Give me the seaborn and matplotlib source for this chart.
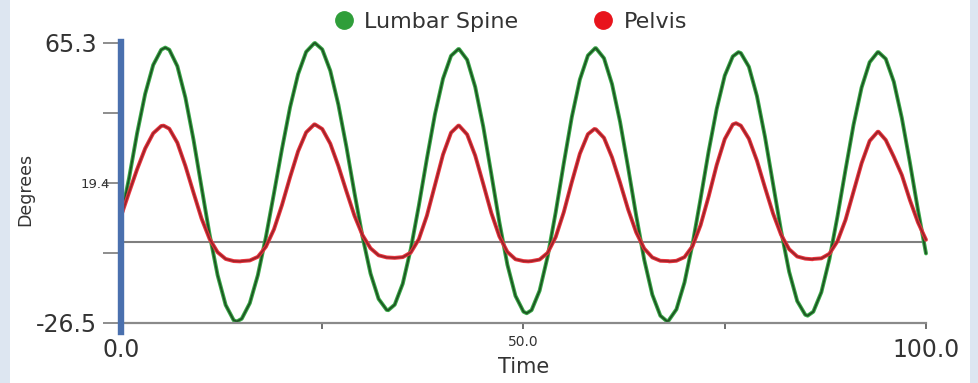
import numpy as np
import pandas as pd
import matplotlib
matplotlib.use("Agg")
import matplotlib.pyplot as plt
import matplotlib.patheffects as pe
from matplotlib.lines import Line2D
from matplotlib.patches import Rectangle
import seaborn as sns

# ---------------- data ----------------
time = list(range(0, 101))

lumbar_spine = [
    8.0, 21.0, 35.7, 48.6, 58.1, 63.1, 63.1, 57.7, 47.4, 33.7,
    18.1, 2.6, -10.8, -20.6, -25.6, -25.1, -20.0, -10.8, 1.7, 16.0,
    30.6, 44.2, 55.1, 62.4, 65.2, 63.2, 56.2, 45.1, 31.3, 16.2,
    1.8, -10.3, -18.6, -22.2, -20.5, -13.6, -2.2, 12.0, 27.4, 41.9,
    53.6, 61.1, 63.3, 59.8, 50.9, 37.9, 22.4, 6.6, -7.4, -17.6,
    -22.8, -22.3, -15.9, -4.7, 9.8, 25.8, 41.0, 53.3, 61.2, 63.6,
    60.3, 51.8, 39.4, 24.4, 8.7, -5.8, -17.2, -24.1, -25.8, -22.0,
    -13.2, -0.6, 14.3, 29.8, 43.7, 54.6, 60.9, 62.0, 57.5, 47.9,
    34.5, 19.1, 3.7, -9.7, -19.3, -23.8, -22.8, -16.4, -5.6, 8.4,
    23.7, 38.5, 50.7, 59.0, 62.3, 60.1, 52.6, 40.7, 26.1, 10.6,
    -3.7,
]
# peaks / troughs of Lumbar Spine read between the whole-number samples
lumbar_extrema_time = [5.5, 14.4, 24.1, 33.2, 41.9, 50.4, 58.9, 67.8, 76.7, 85.3, 94.1]
lumbar_extrema_value = [63.8, -26.0, 65.3, -22.3, 63.3, -23.3, 63.6, -25.9, 62.3, -24.1, 62.3]

pelvis = [
    8.5, 16.3, 23.9, 30.7, 35.7, 38.1, 37.2, 32.6, 25.0, 16.3,
    7.8, 1.1, -3.3, -5.5, -6.2, -6.2, -6.0, -4.8, -1.5, 4.2,
    12.2, 21.3, 29.8, 36.0, 38.6, 37.1, 32.3, 25.0, 16.7, 8.7,
    2.3, -2.0, -4.3, -5.0, -5.1, -4.9, -3.4, 1.0, 8.7, 18.7,
    28.7, 35.9, 38.2, 35.3, 28.4, 19.1, 9.6, 1.9, -3.2, -5.6,
    -6.2, -6.2, -5.7, -3.5, 1.7, 9.8, 19.7, 29.0, 35.4, 37.0,
    34.2, 27.8, 19.5, 10.7, 3.2, -2.1, -5.0, -6.1, -6.2, -6.1,
    -4.9, -1.3, 5.6, 15.0, 25.3, 33.8, 38.6, 38.2, 33.9, 26.7,
    17.9, 9.4, 2.4, -2.3, -4.7, -5.4, -5.5, -5.3, -3.8, 0.3,
    7.3, 16.6, 25.9, 33.2, 36.2, 33.5, 28.0, 22.0, 13.8, 6.5,
    0.8,
]
pelvis_extrema_time = [5.3, 14.8, 24.1, 34.0, 41.9, 50.6, 58.8, 68.1, 76.4, 85.9, 94.1]
pelvis_extrema_value = [38.2, -6.3, 38.6, -5.2, 38.2, -6.3, 37.1, -6.3, 39.0, -5.6, 36.2]

series_names = ["Lumbar Spine", "Pelvis"]
y_ticks = [65.3, 19.4, -26.5]
y_tick_labels = ["65.3", "19.4", "-26.5"]
y_minor_ticks = [42.35, -3.55]
x_ticks = [0, 25, 50, 75, 100]
x_tick_labels = ["0.0", "", "50.0", "", "100.0"]
baseline = 0.0

df = pd.DataFrame({
    "Time": time + lumbar_extrema_time + time + pelvis_extrema_time,
    "Degrees": lumbar_spine + lumbar_extrema_value + pelvis + pelvis_extrema_value,
    "Series": [series_names[0]] * (len(time) + len(lumbar_extrema_time))
              + [series_names[1]] * (len(time) + len(pelvis_extrema_time)),
})

# ---------------- styling ----------------
sns.set_theme(style="white")
plt.rcParams["font.family"] = ["DejaVu Sans"]
TXT = "#333333"

W, H = 979, 383
fig = plt.figure(figsize=(W / 100, H / 100), dpi=100, facecolor="#dde6f1")
fig.patches.append(Rectangle((10 / W, 0), 960 / W, 1, transform=fig.transFigure,
                             facecolor="white", edgecolor="none", zorder=-10))

ax = fig.add_axes([121 / W, 60 / H, 805 / W, 280 / H])
ax.set_facecolor("white")

line_core = {"Lumbar Spine": "#1d5522", "Pelvis": "#a02229"}
line_glow = {"Lumbar Spine": "#3aa848", "Pelvis": "#e8363f"}

ax.axhline(baseline, color="#7f7f7f", lw=1.5, zorder=1.5)

sns.lineplot(data=df, x="Time", y="Degrees", hue="Series", palette=line_core,
             linewidth=1.3, legend=False, ax=ax, zorder=2, sort=True)
for ln, name in zip(ax.lines[1:], series_names):
    ln.set_clip_on(False)
    ln.set_solid_joinstyle("round")
    ln.set_path_effects([pe.Stroke(linewidth=2.8, foreground=line_glow[name], joinstyle="round"),
                         pe.Normal()])

ax.set_xlim(0, 100)
ax.set_ylim(-26.5, 65.3)

for s in ("top", "right"):
    ax.spines[s].set_visible(False)
ax.spines["left"].set_color("#4a70ae")
ax.spines["left"].set_linewidth(4.6)
ax.spines["left"].set_bounds(-29.3, 65.6)
ax.spines["left"].set_zorder(3)
ax.spines["bottom"].set_color("#8a8a8a")
ax.spines["bottom"].set_linewidth(1.6)

ax.set_yticks(y_ticks)
ax.set_yticklabels(y_tick_labels)
ax.set_yticks(y_minor_ticks, minor=True)
ax.set_xticks(x_ticks)
ax.set_xticklabels(x_tick_labels)

ax.tick_params(axis="y", which="both", left=True, direction="out", length=13,
               width=1.2, color="#7a7a7a", labelcolor=TXT, pad=4.3, labelsize=17)
ax.tick_params(axis="x", which="major", bottom=True, direction="out", length=4.5,
               width=1.2, color="#555555", labelcolor=TXT, pad=6.0, labelsize=17)

yt = ax.yaxis.get_major_ticks()
yt[1].label1.set_fontsize(9.5)
yt[1].tick1line.set_markersize(6.5)
yt[1].set_pad(-5.3)
xt = ax.xaxis.get_major_ticks()
xt[2].label1.set_fontsize(10)
xt[2].set_pad(4.1)

ax.set_xlabel("Time", fontsize=15, color=TXT)
ax.xaxis.set_label_coords(0.5, (323 - 357) / 280)
ax.set_ylabel("Degrees", fontsize=12.5, color=TXT)
ax.yaxis.set_label_coords((34 - 121) / 805, (323 - 189) / 280)

handles = [Line2D([], [], ls="", marker="o", markersize=12.5, color=c, label=n)
           for n, c in zip(series_names, ["#2f9e3a", "#e8141c"])]
fig.legend(handles=handles, loc="center", bbox_to_anchor=(509.7 / W, 1 - 22 / H),
           ncol=2, frameon=False, fontsize=16, handlelength=1.0, handletextpad=0.42,
           columnspacing=3.32, labelcolor=TXT, borderpad=0, borderaxespad=0)

fig.savefig("out.png", dpi=100, facecolor=fig.get_facecolor())
